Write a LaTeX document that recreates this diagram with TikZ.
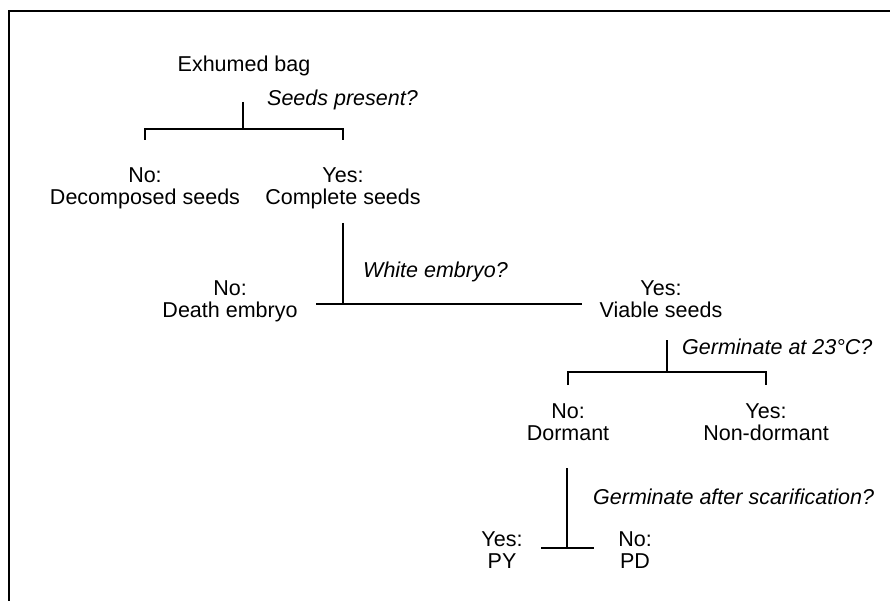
\documentclass[tikz,border=0pt]{standalone}
\usepackage{fontspec}
\setmainfont{Liberation Sans}
\begin{document}
\begin{tikzpicture}[x=1pt,y=-1pt,
  lbl/.style={inner sep=0pt, font=\fontsize{21.5}{21.5}\selectfont, anchor=base},
  duo/.style={inner sep=0pt, font=\fontsize{21.5}{21.5}\selectfont, align=center, anchor=base},
  quest/.style={inner sep=0pt, font=\fontsize{21.5}{21.5}\selectfont\itshape, anchor=base west},
  tree/.style={line width=2.8pt, line cap=butt},
  frame/.style={line width=2.2pt}]
\useasboundingbox (0,0) rectangle (890,601);
\draw[frame] (9,601) -- (9,11) -- (890,11);

% level 1
\node[lbl] (bag) at (244,72) {Exhumed bag};
\node[quest] (q1) at (267,106) {Seeds present?};
\coordinate (s1t) at (243,102);
\coordinate (s1b) at (243,129);
\coordinate (b1l) at (145,129);
\coordinate (b1r) at (343,129);
\coordinate (t1l) at (145,140);
\coordinate (t1r) at (343,140);
\draw[tree] (s1t) -- (s1b);
\draw[tree] (t1l) -- (b1l) -- (b1r) -- (t1r);
\node[duo] (dec) at (145,204.5) {No:\\Decomposed seeds};
\node[duo] (comp) at (343,204.5) {Yes:\\Complete seeds};

% level 2
\node[quest] (q2) at (363,277) {White embryo?};
\coordinate (s2t) at (343,223);
\coordinate (s2b) at (343,304);
\coordinate (b2l) at (316,304);
\coordinate (b2r) at (582,304);
\draw[tree] (s2t) -- (s2b);
\draw[tree] (b2l) -- (b2r);
\node[duo] (death) at (230,317) {No:\\Death embryo};
\node[duo] (viable) at (661,317) {Yes:\\Viable seeds};

% level 3
\node[quest] (q3) at (682,354) {Germinate at 23\textdegree C?};
\coordinate (s3t) at (667,340);
\coordinate (s3b) at (667,372);
\coordinate (b3l) at (568,372);
\coordinate (b3r) at (766,372);
\coordinate (t3l) at (568,385);
\coordinate (t3r) at (766,385);
\draw[tree] (s3t) -- (s3b);
\draw[tree] (t3l) -- (b3l) -- (b3r) -- (t3r);
\node[duo] (dorm) at (568,440) {No:\\Dormant};
\node[duo] (nondorm) at (766,440) {Yes:\\Non-dormant};

% level 4
\node[quest] (q4) at (593,504) {Germinate after scarification?};
\coordinate (s4t) at (567,468);
\coordinate (s4b) at (567,548);
\coordinate (b4l) at (541,548);
\coordinate (b4r) at (594,548);
\draw[tree] (s4t) -- (s4b);
\draw[tree] (b4l) -- (b4r);
\node[duo] (py) at (502,568) {Yes:\\PY};
\node[duo] (pd) at (635,568) {No:\\PD};
\end{tikzpicture}
\end{document}
